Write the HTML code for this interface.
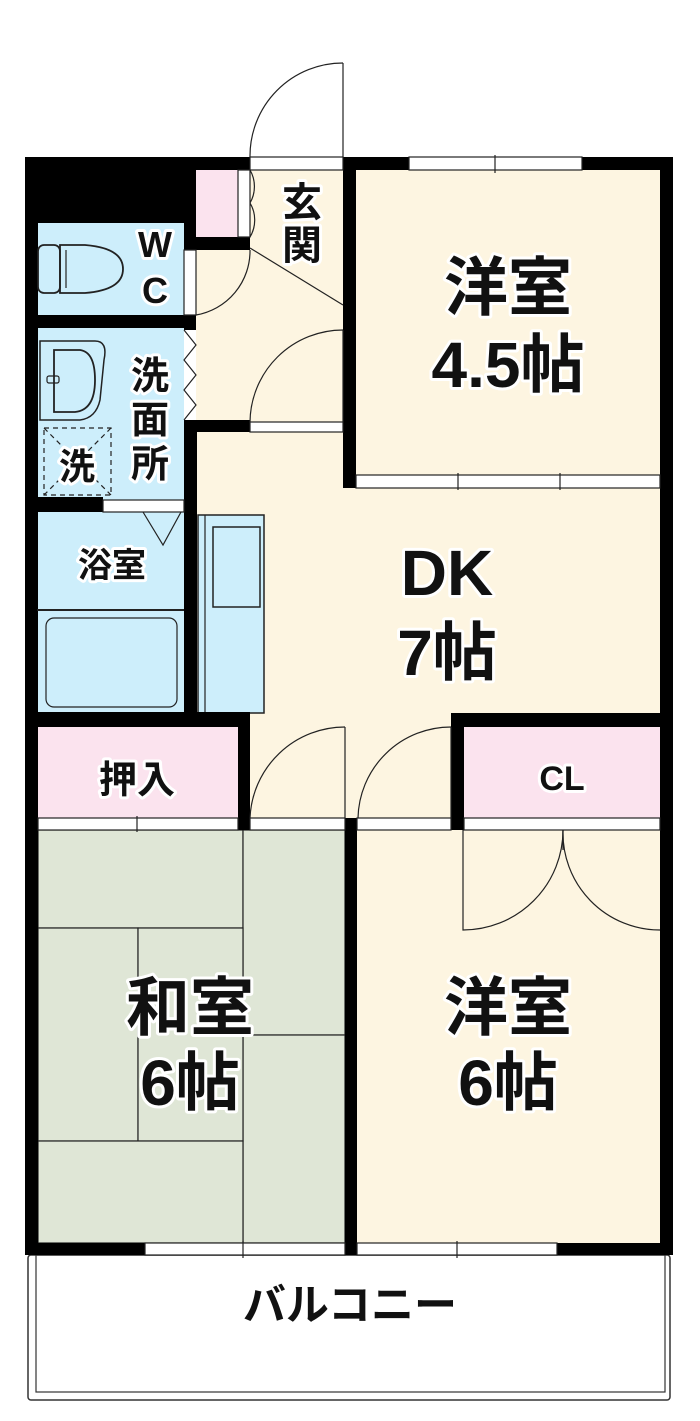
<!DOCTYPE html>
<html><head><meta charset="utf-8"><style>
html,body{margin:0;padding:0;background:#fff;}
svg{display:block;}
text{font-family:"Liberation Sans","Noto Sans CJK JP",sans-serif;fill:#111;paint-order:stroke;stroke:#fff;stroke-width:6px;stroke-linejoin:round;font-weight:600;}
</style></head><body>
<svg width="700" height="1421" viewBox="0 0 700 1421" xmlns="http://www.w3.org/2000/svg">
<rect x="196" y="170" width="464" height="660" fill="#fdf5e1"/>
<rect x="356" y="170" width="306" height="318" fill="#fdf5e1"/>
<rect x="357" y="830" width="303" height="413" fill="#fdf5e1"/>
<rect x="37" y="223" width="147" height="490" fill="#cdeefb"/>
<rect x="198" y="515" width="66" height="198" fill="#cdeefb" stroke="#222" stroke-width="1.5"/>
<line x1="205" y1="515" x2="205" y2="713" stroke="#222" stroke-width="1.2"/>
<rect x="213" y="527" width="47" height="80" fill="#cdeefb" stroke="#222" stroke-width="1.5"/>
<rect x="196" y="170" width="42" height="67" fill="#fbe3ee"/>
<rect x="38" y="727" width="200" height="91" fill="#fbe3ee"/>
<rect x="464" y="727" width="196" height="91" fill="#fbe3ee"/>
<g fill="#dfe6d6" stroke="#222" stroke-width="1.2">
<rect x="38" y="830" width="205" height="98"/>
<rect x="243" y="830" width="102" height="205"/>
<rect x="243" y="1035" width="102" height="208"/>
<rect x="38" y="928" width="100" height="213"/>
<rect x="138" y="928" width="105" height="213"/>
<rect x="38" y="1141" width="205" height="102"/>
</g>
<rect x="28" y="1255" width="642" height="145" fill="#fff" stroke="#333" stroke-width="1.5" rx="3"/>
<rect x="36" y="1255" width="629" height="137" fill="none" stroke="#333" stroke-width="1.2"/>
<g fill="#000">
<rect x="25" y="157" width="171" height="66"/>
<rect x="25" y="157" width="13" height="1098"/>
<rect x="196" y="157" width="54" height="13"/>
<rect x="343" y="157" width="330" height="13"/>
<rect x="660" y="157" width="13" height="1098"/>
<rect x="343" y="157" width="13" height="331"/>
<rect x="184" y="223" width="12" height="27"/>
<rect x="184" y="315" width="12" height="15"/>
<rect x="184" y="420" width="13" height="293"/>
<rect x="37" y="315" width="159" height="13"/>
<rect x="196" y="237" width="54" height="13"/>
<rect x="196" y="420" width="54" height="12"/>
<rect x="37" y="497" width="66" height="15"/>
<rect x="25" y="712" width="225" height="15"/>
<rect x="238" y="712" width="12" height="118"/>
<rect x="451" y="713" width="222" height="14"/>
<rect x="451" y="713" width="13" height="117"/>
<rect x="345" y="818" width="12" height="437"/>
<rect x="25" y="1243" width="120" height="12"/>
<rect x="557" y="1243" width="116" height="12"/>
</g>
<g fill="#fff" stroke="#222" stroke-width="1.2">
<rect x="409" y="157" width="173" height="13"/>
<rect x="356" y="475" width="304" height="13"/>
<rect x="250" y="422" width="93" height="10"/>
<rect x="238" y="170" width="12" height="67"/>
<rect x="250" y="157" width="93" height="13"/>
<rect x="184" y="250" width="12" height="65"/>
<rect x="103" y="500" width="81" height="12"/>
<rect x="38" y="818" width="200" height="12"/>
<rect x="250" y="818" width="95" height="12"/>
<rect x="357" y="818" width="94" height="12"/>
<rect x="464" y="818" width="196" height="12"/>
<rect x="145" y="1243" width="200" height="12"/>
<rect x="357" y="1243" width="200" height="12"/>
</g>
<g stroke="#222" stroke-width="1.2" fill="none">
<line x1="495" y1="155" x2="495" y2="173"/>
<line x1="458" y1="473" x2="458" y2="490"/>
<line x1="560" y1="473" x2="560" y2="490"/>
<line x1="137" y1="816" x2="137" y2="832"/>
<line x1="243" y1="1241" x2="243" y2="1258"/>
<line x1="457" y1="1241" x2="457" y2="1258"/>
<path d="M343 63 A93 93 0 0 0 250 157"/><line x1="343" y1="63" x2="343" y2="157"/>
<path d="M250 170 A33 33 0 0 1 250 203 M250 203 A33 33 0 0 1 250 237"/>
<path d="M250 250 A65 65 0 0 1 196 315"/>
<line x1="250" y1="248" x2="343" y2="305"/>
<path d="M343 330 A93 93 0 0 0 250 422"/><line x1="343" y1="330" x2="343" y2="422"/>
<path d="M184 330 L196 345 L184 360 L196 375 L184 390 L196 405 L184 420"/>
<path d="M143 512 L163 545 L181 512"/>
<line x1="37" y1="610" x2="184" y2="610" stroke-width="2"/>
<rect x="46" y="618" width="131" height="89" rx="8"/>
<path d="M345 727 A95 95 0 0 0 250 818"/><line x1="345" y1="727" x2="345" y2="818"/>
<path d="M451 727 A93 93 0 0 0 358 818"/><line x1="451" y1="727" x2="451" y2="818"/>
<path d="M463 830 L463 930 A100 100 0 0 0 563 830"/>
<path d="M660 930 A97 97 0 0 1 563 830"/>
<line x1="563" y1="830" x2="563" y2="850"/>
<rect x="38" y="245" width="22" height="48" rx="6" fill="#cdeefb" stroke-width="1.8"/>
<path d="M60 245 L85 245 Q123 248 123 269 Q123 290 85 293 L60 293 Z" stroke-width="1.8"/>
<line x1="66" y1="250" x2="66" y2="288"/>
<path d="M40 341 L95 341 Q108 341 104 360 L100 400 Q96 418 80 420 L40 420 Z" stroke-width="1.5"/>
<path d="M54 350 L80 350 Q95 352 95 380 Q95 410 75 412 L54 412 Z" stroke-width="1.8"/>
<rect x="47" y="376" width="12" height="7" rx="2"/>
<rect x="44" y="428" width="67" height="67" stroke-dasharray="5 4"/>
<line x1="44" y1="428" x2="111" y2="495" stroke-dasharray="5 4"/>
<line x1="111" y1="428" x2="44" y2="495" stroke-dasharray="5 4"/>
</g>
<g text-anchor="middle">
<text x="508" y="310" font-size="64">洋室</text>
<text x="508" y="387" font-size="64">4.5帖</text>
<text x="447" y="595" font-size="64">DK</text>
<text x="447" y="675" font-size="64">7帖</text>
<text x="190" y="1030" font-size="64">和室</text>
<text x="190" y="1105" font-size="64">6帖</text>
<text x="508" y="1030" font-size="64">洋室</text>
<text x="508" y="1105" font-size="64">6帖</text>
<text x="562" y="790" font-size="34">CL</text>
<text x="137" y="793" font-size="38">押入</text>
<text x="112" y="577" font-size="34">浴室</text>
<text x="155" y="257" font-size="36">W</text>
<text x="155" y="303" font-size="36">C</text>
<text x="150" y="389" font-size="38">洗</text>
<text x="150" y="433" font-size="38">面</text>
<text x="150" y="477" font-size="38">所</text>
<text x="77" y="479" font-size="36">洗</text>
<text x="302" y="216" font-size="40">玄</text>
<text x="302" y="259" font-size="40">関</text>
<text x="350" y="1320" font-size="43">バルコニー</text>
</g>
</svg>
</body></html>
